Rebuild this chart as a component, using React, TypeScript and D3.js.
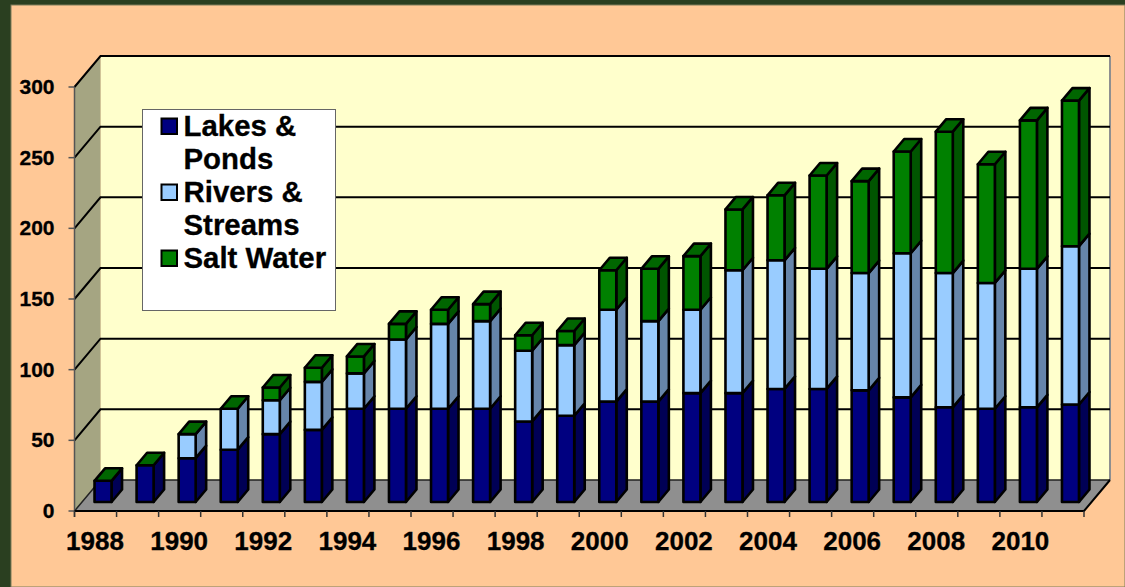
import { useEffect, useRef } from 'react';
import * as d3 from 'd3';

const years = d3.range(1988, 2012);
const lakes = [15, 26, 31, 37, 48, 51, 66, 66, 66, 66, 57, 61, 71, 71, 77, 77, 80, 80, 79, 74, 67, 66, 67, 69];
const rivers = [0, 0, 17, 29, 24, 34, 25, 49, 60, 62, 50, 50, 65, 57, 59, 87, 91, 85, 83, 102, 95, 89, 98, 112];
const salt = [0, 0, 0, 0, 9, 10, 12, 11, 10, 12, 11, 10, 28, 37, 38, 43, 46, 66, 65, 72, 100, 84, 105, 103];
const yTicks = [0, 50, 100, 150, 200, 250, 300];
const xLabels = years.filter(y => y % 2 === 0);

const legendLines = [
  { text: 'Lakes &', swatch: 0 },
  { text: 'Ponds', swatch: -1 },
  { text: 'Rivers &', swatch: 1 },
  { text: 'Streams', swatch: -1 },
  { text: 'Salt Water', swatch: 2 },
];

const colors = ['#000080', '#99ccff', '#008000'];
const sideColors = ['#000055', '#6685aa', '#005500'];
const topColors = ['#000066', '#7aa3cc', '#006600'];

const App = () => {
  const ref = useRef<SVGSVGElement>(null);

  useEffect(() => {
    const svg = d3.select(ref.current);
    svg.selectAll('*').remove();

    const font = '"Liberation Sans", Arial, sans-serif';
    const x = d3.scaleBand<number>().domain(years).range([74.5, 1084]);
    const y = d3.scaleLinear().domain([0, 300]).range([511, 87]);

    // depth of the 3D box
    const dx = 26;
    const dy = 31;
    // bars sit in the middle of the floor
    const barOff = { x: 7.5, y: 9 };
    const barDepth = { x: 10.5, y: 12.5 };
    const barW = 17;

    svg.append('rect').attr('width', 1125).attr('height', 587).attr('fill', '#2a3f20');
    svg.append('rect').attr('x', 11).attr('y', 5).attr('width', 1114).attr('height', 582)
      .attr('fill', '#ffc896').attr('stroke', '#7d7d5a').attr('stroke-width', 1);

    const x0 = x.range()[0];
    const x1 = x.range()[1];
    const poly = (pts: number[][]) => pts.map(p => p.join(',')).join(' ');

    // back wall, side wall, floor
    svg.append('rect').attr('x', x0 + dx).attr('y', y(300) - dy)
      .attr('width', x1 - x0).attr('height', y(0) - y(300))
      .attr('fill', '#ffffcc');
    svg.append('polygon')
      .attr('points', poly([[x0, y(0)], [x0, y(300)], [x0 + dx, y(300) - dy], [x0 + dx, y(0) - dy]]))
      .attr('fill', '#a5a582');
    svg.append('polygon')
      .attr('points', poly([[x0, y(0)], [x1, y(0)], [x1 + dx, y(0) - dy], [x0 + dx, y(0) - dy]]))
      .attr('fill', '#8f8f8f');
    svg.append('line')
      .attr('x1', x1 + dx).attr('x2', x1 + dx)
      .attr('y1', y(300) - dy).attr('y2', y(0) - dy)
      .attr('stroke', '#8f8f8f').attr('stroke-width', 2);

    // gridlines
    yTicks.forEach(t => {
      const isFloor = t === 0;
      svg.append('polyline')
        .attr('points', poly([[x0, y(t)], [x0 + dx, y(t) - dy], [x1 + dx, y(t) - dy]]))
        .attr('fill', 'none')
        .attr('stroke', isFloor ? '#222' : '#000')
        .attr('stroke-width', isFloor ? 1.5 : 2);
      svg.append('line')
        .attr('x1', x0 - 6).attr('x2', x0)
        .attr('y1', y(t)).attr('y2', y(t))
        .attr('stroke', '#555').attr('stroke-width', 1.5);
      svg.append('text')
        .attr('x', x0 - 20).attr('y', y(t) + 7)
        .attr('text-anchor', 'end')
        .style('font', `bold 21px ${font}`)
        .attr('fill', '#000')
        .attr('stroke', '#000').attr('stroke-width', 0.3)
        .text(t);
    });

    // front edges of the floor and axis
    svg.append('line').attr('x1', x0).attr('x2', x0).attr('y1', y(300)).attr('y2', y(0) + 6)
      .attr('stroke', '#555').attr('stroke-width', 1.5);
    svg.append('polyline')
      .attr('points', poly([[x0, y(0)], [x1, y(0)], [x1 + dx, y(0) - dy]]))
      .attr('fill', 'none').attr('stroke', '#000').attr('stroke-width', 2);

    // x ticks
    [...years, 2012].forEach((yr, i) => {
      const tx = x0 + i * x.step();
      svg.append('line').attr('x1', tx).attr('x2', tx).attr('y1', y(0)).attr('y2', y(0) + 6)
        .attr('stroke', '#333').attr('stroke-width', 1.5);
    });
    xLabels.forEach(yr => {
      svg.append('text')
        .attr('x', (x(yr) ?? 0) + x.step() / 2 - 0.5).attr('y', 550)
        .attr('text-anchor', 'middle')
        .style('font', `bold 26px ${font}`)
        .attr('fill', '#000')
        .attr('stroke', '#000').attr('stroke-width', 0.3)
        .text(yr);
    });

    // bars, they do not overlap so the order does not matter
    const stacked = d3.stack<number>()
      .keys(['0', '1', '2'])
      .value((i, k) => [lakes, rivers, salt][+k][i])(years.map((_, i) => i));

    years.forEach((yr, i) => {
      const bx = (x(yr) ?? 0) + x.step() / 2 - barW / 2 + barOff.x;
      stacked.forEach((layer, s) => {
        const [v0, v1] = layer[i];
        const by0 = y(v0) - barOff.y;
        const by1 = y(v1) - barOff.y;
        const g = svg.append('g').attr('stroke', '#000').attr('stroke-width', 2.6).attr('stroke-linejoin', 'round');
        if (v1 > v0) {
          g.append('polygon')
            .attr('points', poly([
              [bx + barW, by0], [bx + barW + barDepth.x, by0 - barDepth.y],
              [bx + barW + barDepth.x, by1 - barDepth.y], [bx + barW, by1],
            ]))
            .attr('fill', sideColors[s]);
          g.append('rect')
            .attr('x', bx).attr('y', by1)
            .attr('width', barW).attr('height', by0 - by1)
            .attr('fill', colors[s]);
        }
        // the top face of the column is always the last series' colour
        if (s === 2) {
          g.append('polygon')
            .attr('points', poly([
              [bx, by1], [bx + barDepth.x, by1 - barDepth.y],
              [bx + barW + barDepth.x, by1 - barDepth.y], [bx + barW, by1],
            ]))
            .attr('fill', topColors[2]);
        }
      });
    });

    // legend
    const legend = svg.append('g').attr('transform', 'translate(142.5,109.5)');
    legend.append('rect').attr('width', 193).attr('height', 201)
      .attr('fill', '#fff').attr('stroke', '#666').attr('stroke-width', 1);
    legendLines.forEach((line, i) => {
      const ly = 17 + i * 33;
      if (line.swatch >= 0) {
        legend.append('rect')
          .attr('x', 19).attr('y', ly - 8).attr('width', 15.5).attr('height', 15.5)
          .attr('fill', colors[line.swatch]).attr('stroke', '#000').attr('stroke-width', 2);
      }
      legend.append('text')
        .attr('x', 41).attr('y', ly + 9)
        .style('font', `bold 29.4px ${font}`)
        .attr('fill', '#000')
        .attr('stroke', '#000').attr('stroke-width', 0.3)
        .text(line.text);
    });
  }, []);

  return <svg ref={ref} width={1125} height={587} style={{ position: 'absolute', left: 0, top: 0 }} />;
};

export default App;
